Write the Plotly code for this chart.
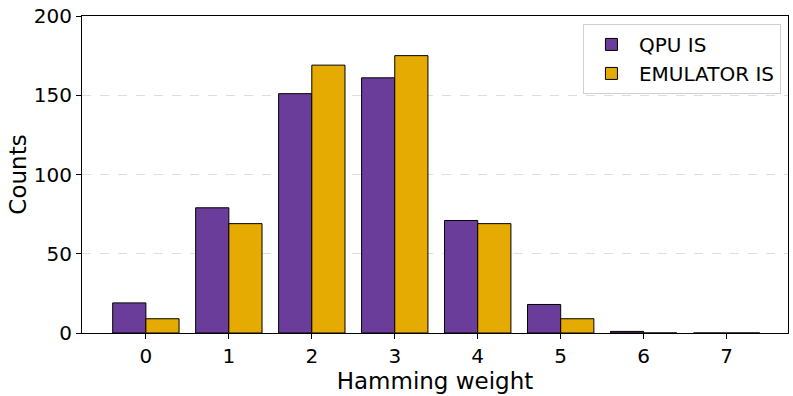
import plotly.graph_objects as go

weights = [0, 1, 2, 3, 4, 5, 6, 7]
qpu_counts = [19, 79, 151, 161, 71, 18, 1, 0]
emu_counts = [9, 69, 169, 175, 69, 9, 0, 0]

fig = go.Figure()
fig.add_trace(go.Bar(x=weights, y=qpu_counts, name="QPU IS",
                     marker=dict(color="#6a3d9a", line=dict(color="black", width=1))))
fig.add_trace(go.Bar(x=weights, y=emu_counts, name="EMULATOR IS",
                     marker=dict(color="#e6ab02", line=dict(color="black", width=1))))

fig.update_layout(
    width=793, height=396,
    margin=dict(l=82, r=5, t=16, b=63),
    plot_bgcolor="white", paper_bgcolor="white",
    font=dict(family="DejaVu Sans", size=20, color="black"),
    barmode="group", bargap=0.2, bargroupgap=0,
    legend=dict(x=0.99, y=0.975, xanchor="right", yanchor="top",
                bordercolor="#d0d0d0", borderwidth=1, bgcolor="white",
                font=dict(size=20), itemwidth=45),
)
fig.update_xaxes(title=dict(text="Hamming weight", font=dict(size=23), standoff=0),
                 range=[-0.77, 7.74], tickmode="array", tickvals=weights,
                 showline=True, linecolor="black", mirror=True, automargin=False,
                 ticks="outside", ticklen=5, tickcolor="black", showgrid=False)
fig.update_yaxes(title=dict(text="Counts", font=dict(size=23), standoff=0),
                 range=[0, 200], tickvals=[0, 50, 100, 150, 200],
                 showline=True, linecolor="black", mirror=True, automargin=False,
                 ticks="outside", ticklen=5, tickcolor="black",
                 ticklabeloverflow="allow",
                 showgrid=True, gridcolor="#dddddd", griddash="dash", zeroline=False)

# drop the default 8px body margin so the figure sits at the page corner
fig.write_html("out.html", config={"displayModeBar": False},
               post_script="document.body.style.margin='0';")
